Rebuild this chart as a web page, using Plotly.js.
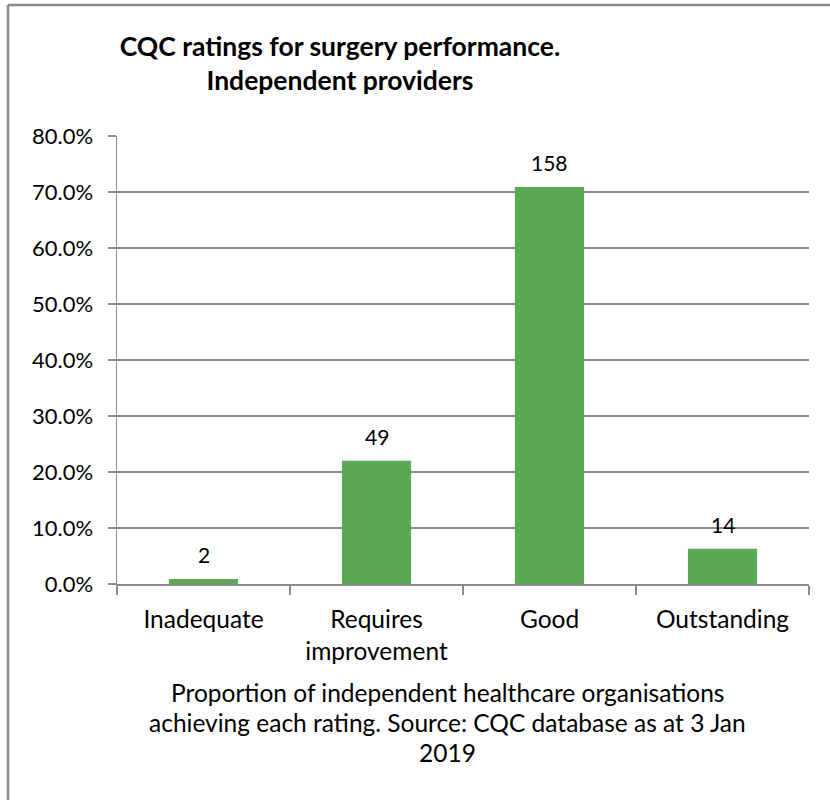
<!DOCTYPE html>
<html>
<head>
<meta charset="utf-8">
<script src="https://cdn.plot.ly/plotly-3.0.1.min.js"></script>
<style>
  body { margin: 0; background: #fff; }
  #chart { width: 830px; height: 800px; }
</style>
</head>
<body>
<div id="chart"></div>
<script>
// Kategorien und Werte aus der Grafik
const ratings = ["Inadequate", "Requires<br>improvement", "Good", "Outstanding"];
const counts = [2, 49, 158, 14];          // Anzahl Anbieter (Balkenbeschriftung)
const shares = [0.9, 22.0, 70.9, 6.3];    // Anteil in %
const yTicks = [0, 10, 20, 30, 40, 50, 60, 70, 80];
const yTickText = yTicks.map((v) => v.toFixed(1) + "%");

const chartTitle = "<b>CQC ratings for surgery performance.<br>Independent providers</b>";
const captionLines = [
    "Proportion of independent healthcare organisations",
    "achieving each rating. Source: CQC database as at 3 Jan",
    "2019"
];

const gridGray = "#8c8c8c";
const font = "Lato, 'Open Sans', sans-serif";

const barTrace = {
    x: ratings,
    y: shares,
    type: "bar",
    width: 0.4,
    marker: { color: "#5ca857" },
    hoverinfo: "skip",
};

// Balkenbeschriftungen (Anzahl) über den Balken
const countLabels = ratings.map((r, i) => ({
    x: r,
    y: shares[i],
    xref: "x",
    yref: "y",
    text: String(counts[i]),
    showarrow: false,
    yanchor: "bottom",
    yshift: 10,
    font: { family: font, size: 21, color: "#000" },
}));

// Fußnote unter dem Diagramm
const captionNotes = captionLines.map((line, i) => ({
    x: 0.477,
    y: -0.2433,
    xref: "paper",
    yref: "paper",
    yanchor: "middle",
    yshift: -30 * i,
    text: line,
    showarrow: false,
    font: { family: font, size: 24.5, color: "#000" },
}));

const layout = {
    width: 830,
    height: 800,
    margin: { l: 117, r: 21, t: 136, b: 216 },
    paper_bgcolor: "#fff",
    plot_bgcolor: "#fff",
    showlegend: false,
    font: { family: font, size: 21, color: "#000" },
    title: {
        text: chartTitle,
        font: { family: font, size: 26.5, color: "#000" },
        xref: "container",
        x: 340 / 830,
        xanchor: "center",
        yref: "container",
        y: 1 - 56 / 800,
        yanchor: "top",
    },
    xaxis: {
        type: "category",
        showgrid: false,
        showline: true,
        linecolor: gridGray,
        linewidth: 1.5,
        ticks: "outside",
        tickson: "boundaries",
        ticklen: 9,
        tickwidth: 1.5,
        tickcolor: gridGray,
        ticklabelstandoff: 13,
        tickfont: { family: font, size: 24.5, color: "#000" },
    },
    yaxis: {
        range: [0, 80],
        tickvals: yTicks,
        ticktext: yTickText,
        showgrid: true,
        gridcolor: gridGray,
        gridwidth: 1.5,
        zeroline: false,
        showline: true,
        linecolor: gridGray,
        linewidth: 1.5,
        ticks: "outside",
        ticklen: 8,
        tickwidth: 1.5,
        tickcolor: gridGray,
        ticklabelstandoff: 10,
        tickfont: { family: font, size: 22, color: "#000" },
    },
    annotations: countLabels.concat(captionNotes),
    // Rahmen (links und oben sichtbar)
    shapes: [
        {
            type: "line", xref: "paper", yref: "paper",
            x0: -0.1575, x1: -0.1575, y0: 1.2924, y1: -0.49,
            line: { color: "#888", width: 2.5 },
        },
        {
            type: "line", xref: "paper", yref: "paper",
            x0: -0.1575, x1: 1.04, y0: 1.2924, y1: 1.2924,
            line: { color: "#888", width: 2.5 },
        },
    ],
};

Plotly.newPlot("chart", [barTrace], layout, { displayModeBar: false, staticPlot: true });
</script>
</body>
</html>
